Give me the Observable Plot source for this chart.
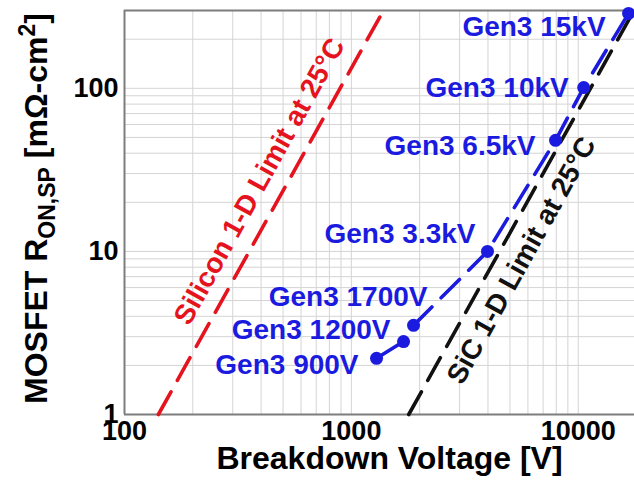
<!DOCTYPE html>
<html>
<head>
<meta charset="utf-8">
<script src="https://cdn.jsdelivr.net/npm/d3@7"></script>
<script src="https://cdn.jsdelivr.net/npm/@observablehq/plot@0.6"></script>
<style>
  html, body { margin: 0; padding: 0; background: #fff; }
  #chart { width: 634px; height: 481px; overflow: hidden; }
</style>
</head>
<body>
<div id="chart"></div>
<script>
// ---- data ----
const gen3Labels  = ["Gen3 900V", "Gen3 1200V", "Gen3 1700V", "Gen3 3.3kV", "Gen3 6.5kV", "Gen3 10kV", "Gen3 15kV"];
const gen3Voltage = [1291, 1698, 1879, 3981, 7943, 10570, 16670];   // V
const gen3Ron     = [2.21, 2.80, 3.52, 10.0, 48.0, 101, 288];        // mOhm-cm2

const siliconLimitV = [141, 1385];
const siliconLimitR = [1, 300];
const sicLimitV     = [1790, 17600];
const sicLimitR     = [1, 300];

const limitLabelText = ["Silicon 1-D Limit at 25°C", "SiC 1-D Limit at 25°C"];
const limitLabelV    = [394, 5623];
const limitLabelR    = [26.9, 8.8];

const xTicks = [100, 1000, 10000];
const yTicks = [1, 10, 100];
const xDomain = [100, 17700];
const yDomain = [1, 300];

const xTitle = "Breakdown Voltage [V]";
const yTitle = "MOSFET RON,SP [mΩ-cm2]";

// ---- tables built from the arrays ----
const gen3 = gen3Labels.map((label, i) => ({label, v: gen3Voltage[i], r: gen3Ron[i]}));
const gen3Solid  = gen3.slice(0, 2);   // 900V – 1200V
const gen3Dashed = gen3.slice(2);      // 1700V – 15kV
const siliconLimit = siliconLimitV.map((v, i) => ({v, r: siliconLimitR[i]}));
const sicLimit = sicLimitV.map((v, i) => ({v, r: sicLimitR[i]}));
const limitLabels = limitLabelText.map((t, i) => ({t, v: limitLabelV[i], r: limitLabelR[i]}));

const xGrid = d3.scaleLog().domain(xDomain).ticks();
const yGrid = d3.scaleLog().domain(yDomain).ticks();

// label offsets from each point (pixels)
const labelOffsets = [[-18, 7], [-13, -12], [14, -28], [-12, -17], [-20, 6], [-15, 0], [-23, 14]];

const BLUE = "#1b1be0", RED = "#e5131d", BLACK = "#111111";
const dash = "26,13";

const chart = Plot.plot({
  width: 634,
  height: 481,
  marginLeft: 124,
  marginRight: 0,
  marginTop: 10,
  marginBottom: 67,
  style: {fontFamily: "'Liberation Sans', Arial, sans-serif", fontWeight: "bold", fontSize: "27px", background: "#fff", color: "#000", overflow: "hidden"},
  x: {type: "log", domain: xDomain, label: null},
  y: {type: "log", domain: yDomain, label: null},
  marks: [
    Plot.ruleX(xGrid, {stroke: "#d4d4d4", strokeWidth: 1}),
    Plot.ruleY(yGrid, {stroke: "#d4d4d4", strokeWidth: 1}),
    Plot.ruleX([xDomain[0]], {stroke: "#7d7d7d", strokeWidth: 2}),
    Plot.ruleY(yDomain, {stroke: "#7d7d7d", strokeWidth: 2}),
    Plot.axisX({ticks: xTicks, tickSize: 0, tickPadding: 6, tickFormat: d => String(d), label: null, fontSize: 27, fontWeight: "bold"}),
    Plot.axisY({ticks: yTicks, tickSize: 0, tickPadding: 6, tickFormat: d => String(d), label: null, fontSize: 27, fontWeight: "bold"}),
    // limit lines
    Plot.line(siliconLimit, {x: "v", y: "r", stroke: RED, strokeWidth: 3.6, strokeDasharray: dash}),
    Plot.line(sicLimit, {x: "v", y: "r", stroke: BLACK, strokeWidth: 3.6, strokeDasharray: dash}),
    Plot.text(limitLabels.slice(0, 1), {x: "v", y: "r", text: "t", rotate: -61, fill: RED, fontSize: 28, fontWeight: "bold", textAnchor: "middle", lineAnchor: "middle"}),
    Plot.text(limitLabels.slice(1), {x: "v", y: "r", text: "t", rotate: -61, fill: BLACK, fontSize: 28, fontWeight: "bold", textAnchor: "middle", lineAnchor: "middle"}),
    // Gen3 devices
    Plot.line(gen3Solid, {x: "v", y: "r", stroke: BLUE, strokeWidth: 3.6}),
    Plot.line(gen3Dashed, {x: "v", y: "r", stroke: BLUE, strokeWidth: 3.6, strokeDasharray: dash}),
    Plot.dot(gen3, {x: "v", y: "r", r: 6.5, fill: BLUE, stroke: "none"}),
    ...gen3.map((d, i) => Plot.text([d], {x: "v", y: "r", text: "label", dx: labelOffsets[i][0], dy: labelOffsets[i][1], textAnchor: "end", lineAnchor: "middle", fill: BLUE, fontSize: 28, fontWeight: "bold"})),
    // axis titles
    Plot.text([xTitle], {frameAnchor: "bottom", textAnchor: "middle", dx: 10, dy: 44, text: d => d, fontSize: 32, fontWeight: "bold", lineAnchor: "middle", fill: "#000"}),
    Plot.text([yTitle], {frameAnchor: "left", textAnchor: "middle", dx: -88, dy: -4, rotate: -90, text: d => d, fontSize: 32, fontWeight: "bold", lineAnchor: "middle", fill: "#000"})
  ]
});

document.getElementById("chart").appendChild(chart);

// Rich text (subscript / superscript) for the y-axis title
const svg = d3.select(chart.tagName === "svg" ? chart : chart.querySelector("svg"));
svg.selectAll("text").filter(function() { return this.textContent === yTitle; }).each(function() {
  const t = d3.select(this);
  t.attr("text-anchor", "middle");
  t.text(null);
  t.append("tspan").text("MOSFET R");
  t.append("tspan").attr("dy", 8).attr("font-size", 23).text("ON,SP");
  t.append("tspan").attr("dy", -8).text(" [mΩ-cm");
  t.append("tspan").attr("dy", -12).attr("font-size", 23).text("2");
  t.append("tspan").attr("dy", 12).text("]");
});
</script>
</body>
</html>
